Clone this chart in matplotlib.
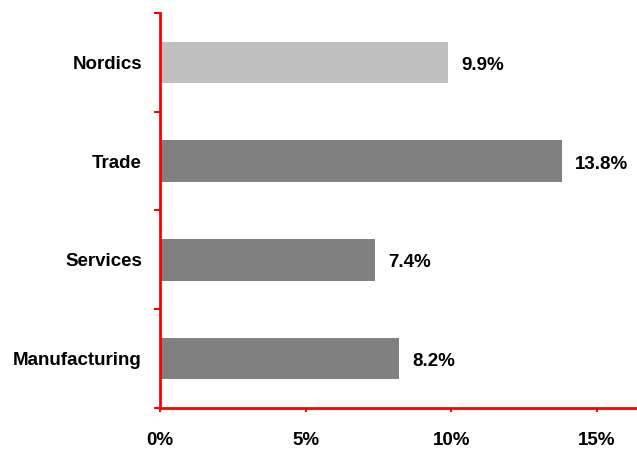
import matplotlib.pyplot as plt

categories = ["Manufacturing", "Services", "Trade", "Nordics"]
values = [8.2, 7.4, 13.8, 9.9]
colors = ["#808080", "#808080", "#808080", "#c0c0c0"]
xticks = [0, 5, 10, 15]
xlabels = ["0%", "5%", "10%", "15%"]

plt.rcParams['font.family'] = ['Liberation Sans', 'DejaVu Sans']

fig = plt.figure(figsize=(6.37, 4.49), dpi=100)
ax = fig.add_axes([160 / 637, 1 - 408 / 449, 477 / 637, 395 / 449])

pos = range(len(categories))
ax.barh(pos, values, height=0.42, color=colors)

# value labels next to bars
for i, v in enumerate(values):
    ax.text(v + 0.45, i - 0.03, f"{v:.1f}%", va='center', ha='left',
            fontsize=13.5, fontweight='bold')

ax.set_xlim(0, 16.38)
ax.set_ylim(-0.5, len(categories) - 0.5)

# category labels sit between the tick marks
ax.set_yticks([i - 0.5 for i in range(len(categories) + 1)])
ax.set_yticklabels([])
ax.set_yticks(list(pos), minor=True)
ax.set_yticklabels(categories, minor=True, fontsize=13.5, fontweight='bold')
ax.tick_params(axis='y', which='major', length=4.3, width=1.5, color='red', direction='out')
ax.tick_params(axis='y', which='minor', length=0, pad=13)

ax.set_xticks(xticks)
ax.set_xticklabels(xlabels, fontsize=13.5, fontweight='bold')
ax.tick_params(axis='x', length=3, width=1.5, color='red', direction='out', pad=14.5)

for s in ['top', 'right']:
    ax.spines[s].set_visible(False)
for s in ['left', 'bottom']:
    ax.spines[s].set_color('red')
    ax.spines[s].set_linewidth(2)

fig.savefig("out.png", dpi=100)
